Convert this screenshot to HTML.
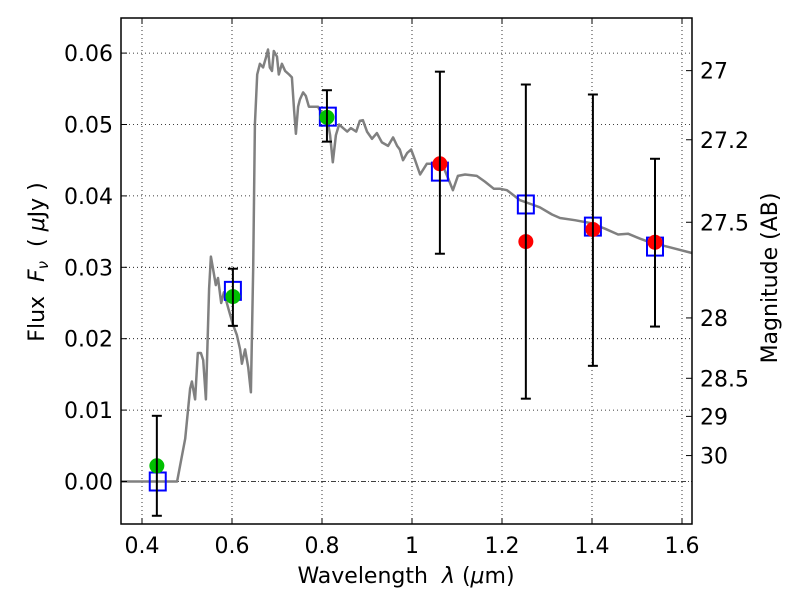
<!DOCTYPE html>
<html><head><meta charset="utf-8"><style>
body{margin:0;background:#fff;}
svg{display:block;font-family:"DejaVu Sans","Liberation Sans",sans-serif;}
</style></head><body>
<svg id="chart" width="800" height="600">
<g id="grid"></g>
<g id="marks"></g>
<g id="axes"></g>
<text x="406" y="583" font-size="22" text-anchor="middle">Wavelength&#160;&#160;<tspan font-style="italic">λ</tspan> (<tspan font-style="italic">μ</tspan>m)</text>
<text transform="translate(44,262) rotate(-90)" font-size="22" text-anchor="middle">Flux&#160;&#160;<tspan font-style="italic">F</tspan><tspan font-style="italic" font-size="15" dy="4">ν</tspan><tspan dy="-4">&#160;&#160;( </tspan><tspan font-style="italic">μ</tspan>Jy )</text>
<text transform="translate(777,278) rotate(-90)" font-size="22" text-anchor="middle">Magnitude (AB)</text>
</svg>
<script>
const specLam=[0.353,0.473,0.478,0.484,0.496,0.507,0.511,0.518,0.524,0.531,0.536,0.542,0.549,0.553,0.560,0.564,0.569,0.576,0.582,0.593,0.602,0.611,0.618,0.622,0.629,0.636,0.642,0.647,0.651,0.656,0.662,0.669,0.676,0.680,0.684,0.689,0.693,0.700,0.704,0.711,0.718,0.727,0.733,0.738,0.742,0.747,0.751,0.758,0.764,0.771,0.780,0.791,0.800,0.811,0.818,0.824,0.831,0.838,0.847,0.856,0.864,0.876,0.884,0.891,0.900,0.911,0.922,0.933,0.947,0.958,0.967,0.973,0.980,0.989,0.998,1.007,1.018,1.033,1.051,1.067,1.080,1.091,1.102,1.118,1.144,1.162,1.182,1.196,1.211,1.240,1.267,1.284,1.311,1.329,1.362,1.396,1.429,1.458,1.480,1.507,1.529,1.573,1.622];
const specFlux=[0,0,0,0.002,0.006,0.013,0.014,0.0115,0.018,0.018,0.017,0.0115,0.027,0.0315,0.029,0.0275,0.0285,0.025,0.0265,0.024,0.022,0.0205,0.0185,0.0165,0.0185,0.016,0.0125,0.03,0.05,0.057,0.0585,0.058,0.0595,0.0605,0.058,0.0575,0.0603,0.0595,0.057,0.0585,0.0575,0.057,0.0566,0.052,0.0487,0.0525,0.0535,0.0545,0.054,0.0525,0.0525,0.0525,0.0515,0.051,0.0485,0.0447,0.0485,0.05,0.0495,0.049,0.0495,0.049,0.0505,0.0506,0.049,0.048,0.0488,0.0475,0.047,0.0482,0.047,0.0465,0.045,0.046,0.0465,0.045,0.043,0.0445,0.0445,0.0445,0.0425,0.0408,0.0428,0.043,0.0428,0.042,0.041,0.041,0.0408,0.0394,0.0388,0.0384,0.0374,0.0369,0.0366,0.0362,0.0354,0.0346,0.0347,0.034,0.0335,0.0328,0.032];
const greenLam=[0.433,0.602,0.811];
const greenFlux=[0.0022,0.0259,0.0510];
const greenErrLo=[-0.0048,0.0218,0.0476];
const greenErrHi=[0.0092,0.0298,0.0548];
const redLam=[1.062,1.253,1.402,1.540];
const redFlux=[0.0445,0.0336,0.0353,0.0335];
const redErrLo=[0.0319,0.0116,0.0162,0.0217];
const redErrHi=[0.0574,0.0556,0.0542,0.0452];
const boxLam=[0.435,0.602,0.813,1.062,1.253,1.402,1.540];
const boxFlux=[0.0,0.0267,0.0511,0.0434,0.0388,0.0357,0.0329];
const xTicks=[0.4,0.6,0.8,1.0,1.2,1.4,1.6];
const xTickLabels=["0.4","0.6","0.8","1","1.2","1.4","1.6"];
const yTicks=[0,0.01,0.02,0.03,0.04,0.05,0.06];
const yTickLabels=["0.00","0.01","0.02","0.03","0.04","0.05","0.06"];
const magTicks=[27,27.2,27.5,28,28.5,29,30];
const magTickLabels=["27","27.2","27.5","28","28.5","29","30"];

const L=121,R=692,T=18,B=524;
const X=v=>142+(v-0.4)*450;
const Y=v=>481.5-v*7140;
const NS="http://www.w3.org/2000/svg";
function mk(tag,attrs,parent){const e=document.createElementNS(NS,tag);for(const k in attrs)e.setAttribute(k,attrs[k]);parent.appendChild(e);return e;}
const grid=document.getElementById('grid'),marks=document.getElementById('marks'),axes=document.getElementById('axes');

xTicks.forEach((v,i)=>{
  const g=mk('line',{x1:X(v),x2:X(v),y1:T,y2:B,stroke:'#000','stroke-width':0.8,'stroke-dasharray':'1,3'},grid);
  
  
  const t=mk('text',{x:X(v),y:B+29,'font-size':22,'text-anchor':'middle'},axes);
  t.textContent=xTickLabels[i];
  
  
  mk('line',{x1:X(v),x2:X(v),y1:B,y2:B-6,stroke:'#000'},axes);
  mk('line',{x1:X(v),x2:X(v),y1:T,y2:T+6,stroke:'#000'},axes);
});
yTicks.forEach((v,i)=>{
  if(v!==0){
  const g=mk('line',{x1:L,x2:R,y1:Y(v),y2:Y(v),stroke:'#000','stroke-width':0.8,'stroke-dasharray':'1,3'},grid);
  
  }
  const t=mk('text',{x:L-8,y:Y(v)+8,'font-size':22,'text-anchor':'end'},axes);
  t.textContent=yTickLabels[i];
  
  
  mk('line',{x1:L,x2:L+6,y1:Y(v),y2:Y(v),stroke:'#000'},axes);
});
const zl=mk('line',{x1:L,x2:R,y1:Y(0),y2:Y(0),stroke:'#000','stroke-width':0.7,'stroke-dasharray':'5,2,1,2'},grid);


magTicks.forEach((m,i)=>{
  const f=Math.pow(10,(23.9-m)/2.5);
  mk('line',{x1:R,x2:R-6,y1:Y(f),y2:Y(f),stroke:'#000'},axes);
  const t=mk('text',{x:R+8,y:Y(f)+8,'font-size':22},axes);
  t.textContent=magTickLabels[i];
  
  
});
const fr=mk('rect',{x:L,y:T,width:R-L,height:B-T,fill:'none',stroke:'#000','stroke-width':1.5},axes);



let d=specLam.map((l,i)=>(i?'L':'M')+X(l).toFixed(1)+','+Y(specFlux[i]).toFixed(1)).join(' ');
const sp=mk('path',{d:d,fill:'none',stroke:'#808080','stroke-width':2.5,'stroke-linejoin':'round'},marks);



boxLam.forEach((l,i)=>{
  const b=mk('rect',{x:X(l)-8,y:Y(boxFlux[i])-9,width:16,height:18,fill:'none',stroke:'#0000ff','stroke-width':2},marks);
  
  
});
function pts(lam,fl,lo,hi,col,name){
  lam.forEach((l,i)=>{
    const x=X(l);
    const c=mk('circle',{cx:x,cy:Y(fl[i]),r:7.5,fill:col},marks);
    
    
    const e=mk('line',{x1:x,x2:x,y1:Y(lo[i]),y2:Y(hi[i]),stroke:'#000','stroke-width':2},marks);
    
    
    mk('line',{x1:x-5,x2:x+5,y1:Y(lo[i]),y2:Y(lo[i]),stroke:'#000','stroke-width':2},marks);
    mk('line',{x1:x-5,x2:x+5,y1:Y(hi[i]),y2:Y(hi[i]),stroke:'#000','stroke-width':2},marks);
  });
}
pts(greenLam,greenFlux,greenErrLo,greenErrHi,'#00c000','detection-point');
pts(redLam,redFlux,redErrLo,redErrHi,'#ff0000','upper-limit-point');
</script>
</body></html>
